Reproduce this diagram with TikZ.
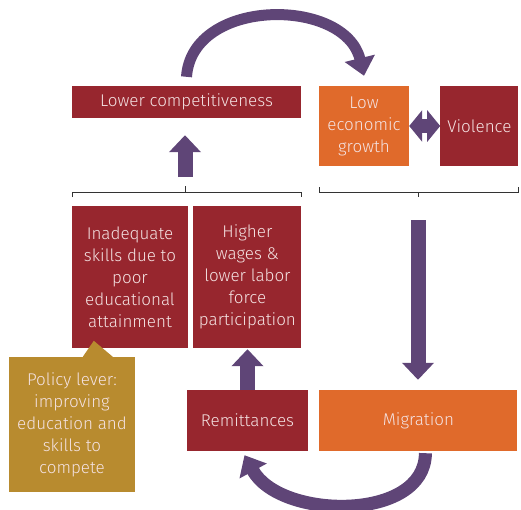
\documentclass[tikz,border=0pt]{standalone}
\usepackage{fontspec}
\setmainfont{Fira Sans}[UprightFont=* Light]
\usetikzlibrary{arrows.meta,positioning,calc}
\definecolor{wine}{HTML}{97262E}
\definecolor{rust}{HTML}{E06A2B}
\definecolor{ochre}{HTML}{B88B2F}
\definecolor{plum}{HTML}{5F4577}
\definecolor{paper}{HTML}{F4E2E2}

\begin{document}
\begin{tikzpicture}[x=1pt,y=-1pt,node distance=5pt]
    \tikzstyle{box}=[rectangle,inner sep=0pt,text=paper,align=center,font=\fontsize{17}{22}\selectfont]
    \tikzstyle{fat}=[draw=plum,line width=15pt,-{Triangle[width=31pt,length=17pt]}]
    \tikzstyle{bent}=[draw=plum,line width=11pt,-{Triangle[width=30pt,length=18pt]}]

    \useasboundingbox (0,0) rectangle (521,509);

    \node[box,fill=wine,minimum width=229pt,minimum height=32pt] (lowcomp) at (186.5,102) {Lower competitiveness};
    \node[box,fill=rust,minimum width=90pt,minimum height=80pt]  (growth) at (364,126) {Low\\economic\\growth};
    \node[box,fill=wine,minimum width=78pt,minimum height=80pt]  (violence) [right=31pt of growth] {Violence};
    \node[box,fill=wine,minimum width=116pt,minimum height=142pt] (skills) at (130,277) {Inadequate\\skills due to\\poor\\educational\\attainment};
    \node[box,fill=wine,minimum width=108pt,minimum height=142pt] (wages) [right=of skills] {Higher\\wages \&\\lower labor\\force\\participation};
    \node[box,fill=wine,minimum width=121pt,minimum height=61pt] (remit) at (247.5,420.5) {Remittances};
    \node[box,fill=rust,minimum width=198pt,minimum height=61pt] (migr) [right=11pt of remit] {Migration};
    \node[box,fill=ochre,minimum width=126pt,minimum height=135pt] (policy) at (72,424.5) {Policy lever:\\improving\\education and\\skills to\\compete};
    \fill[ochre] ($(policy.north west)+(74,0)$) -- ($(policy.north west)+(85,-16)$) -- ($(policy.north west)+(104,0)$) -- cycle;

    % brackets
    \coordinate (lb) at (185,192);
    \coordinate (rb) at (418,192);
    \draw[black!80,line width=0.8pt] (72,197) -- (72,192) -- (301,192) -- (301,197) (lb) -- ++(0,-6);
    \draw[black!80,line width=0.8pt] (319,187) -- (319,192) -- (518,192) -- (518,187) (rb) -- ++(0,5);

    % arrows
    \draw[fat] (lb) ++(0,-15) coordinate (lbt) -- (lbt |- lowcomp.south) [shorten >=17pt];
    \draw[fat,shorten <=28pt,shorten >=10pt] (rb) -- (rb |- migr.north);
    \draw[fat,shorten >=1pt] (remit.north) -- (remit.north |- wages.south);
    \draw[draw=plum,line width=14pt,{Triangle[width=31pt,length=13pt]}-{Triangle[width=31pt,length=13pt]}] (growth.east) -- (violence.west);
    \draw[bent] ($(lowcomp.north)+(0,-9)$) .. controls (192,-3) and (345,-3) .. ($(growth.north)+(0,-10)$);
    \draw[bent,line width=13pt] ($(migr.south)+(7,2)$) .. controls (425,522) and (280,520) .. ($(remit.south)+(-3,4)$);
\end{tikzpicture}
\end{document}
